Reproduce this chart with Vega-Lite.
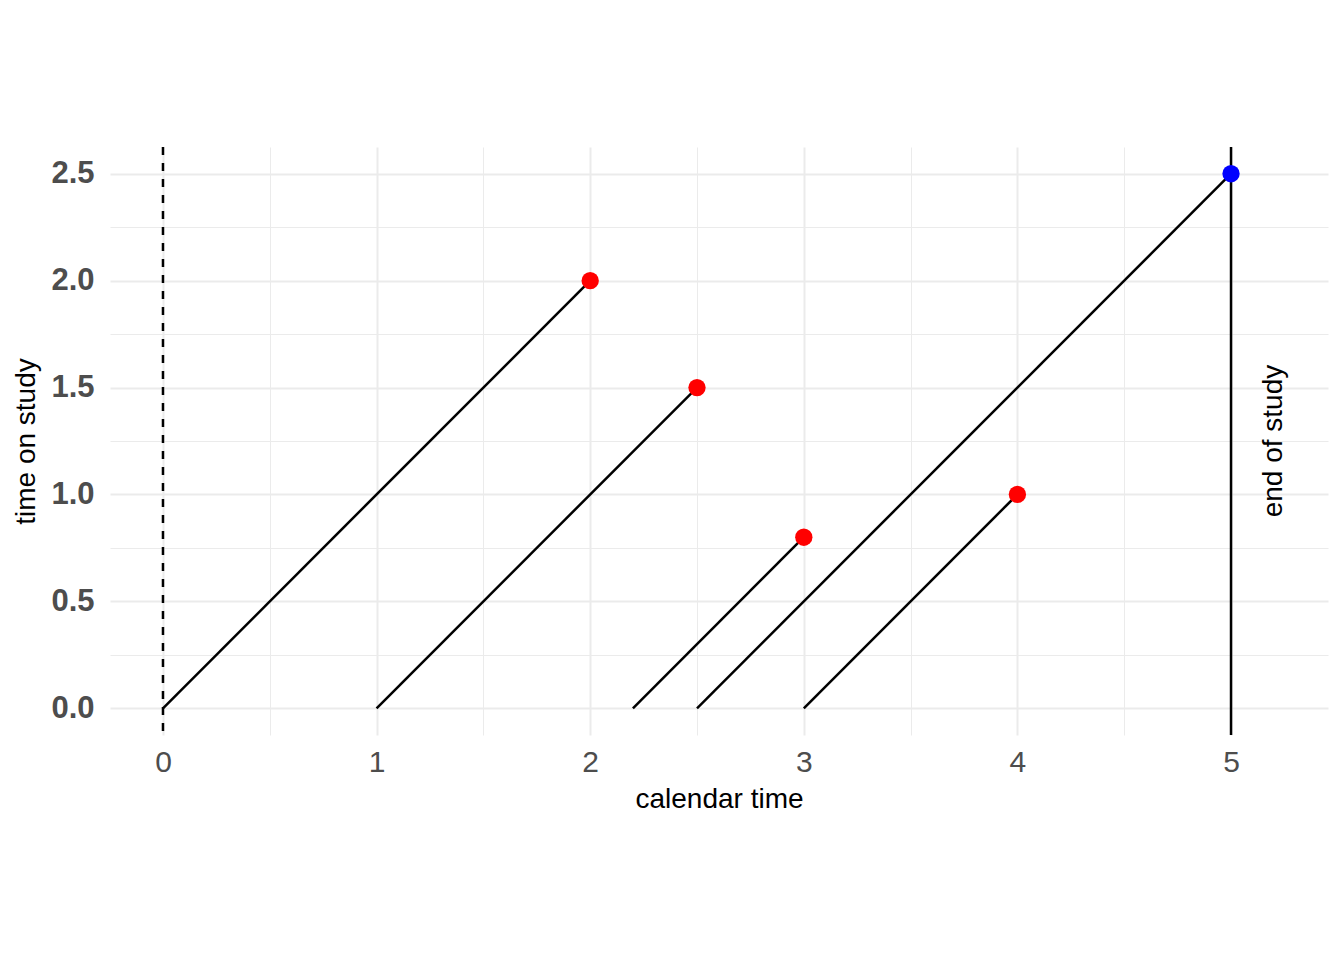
{
  "$schema": "https://vega.github.io/schema/vega-lite/v6.json",
  "width": 1218,
  "height": 588,
  "autosize": {"type": "none"},
  "padding": {"left": 110, "top": 147, "right": 16, "bottom": 225},
  "background": "white",
  "datasets": {
    "subjects": [
      {"entry": 0, "exit": 2, "start": 0, "time": 2, "status": "event"},
      {"entry": 1, "exit": 2.5, "start": 0, "time": 1.5, "status": "event"},
      {"entry": 2.2, "exit": 3, "start": 0, "time": 0.8, "status": "event"},
      {"entry": 2.5, "exit": 5, "start": 0, "time": 2.5, "status": "censored"},
      {"entry": 3, "exit": 4, "start": 0, "time": 1, "status": "event"}
    ],
    "bounds": [
      {"calendar": 0, "kind": "start of study"},
      {"calendar": 5, "kind": "end of study"}
    ],
    "notes": [
      {"calendar": 5.2, "time": 1.25, "label": "end of study"}
    ]
  },
  "layer": [
    {
      "data": {"name": "subjects"},
      "mark": {"type": "rule", "color": "black", "strokeWidth": 2.5},
      "encoding": {
        "x": {
          "field": "entry",
          "type": "quantitative",
          "title": "calendar time",
          "scale": {"domain": [-0.248, 5.454], "nice": false, "zero": false},
          "axis": {
            "values": [0, 0.5, 1, 1.5, 2, 2.5, 3, 3.5, 4, 4.5, 5],
            "format": "~g",
            "labelExpr": "datum.value % 1 === 0 ? datum.label : ''",
            "gridWidth": {"condition": {"test": "datum.value % 1 === 0", "value": 2}, "value": 1},
            "labelPadding": 12,
            "titlePadding": 8
          }
        },
        "x2": {"field": "exit"},
        "y": {
          "field": "start",
          "type": "quantitative",
          "title": "time on study",
          "scale": {"domain": [-0.125, 2.625], "nice": false, "zero": false},
          "axis": {
            "values": [0, 0.25, 0.5, 0.75, 1, 1.25, 1.5, 1.75, 2, 2.25, 2.5],
            "format": ".1f",
            "labelExpr": "round(datum.value * 4) % 2 === 0 ? datum.label : ''",
            "gridWidth": {"condition": {"test": "round(datum.value * 4) % 2 === 0", "value": 2}, "value": 1},
            "labelFontWeight": "bold",
            "labelFontSize": 31,
            "labelPadding": 16,
            "titlePadding": 10
          }
        },
        "y2": {"field": "time"}
      }
    },
    {
      "data": {"name": "bounds"},
      "mark": {"type": "rule", "color": "black", "strokeWidth": 2.5},
      "encoding": {
        "x": {"field": "calendar", "type": "quantitative", "title": "calendar time"},
        "strokeDash": {
          "field": "kind",
          "type": "nominal",
          "scale": {"domain": ["start of study", "end of study"], "range": [[8, 8], [1, 0]]},
          "legend": null
        }
      }
    },
    {
      "data": {"name": "subjects"},
      "mark": {"type": "circle", "opacity": 1, "size": 300},
      "encoding": {
        "x": {"field": "exit", "type": "quantitative", "title": "calendar time"},
        "y": {"field": "time", "type": "quantitative", "title": "time on study"},
        "color": {
          "field": "status",
          "type": "nominal",
          "scale": {"domain": ["event", "censored"], "range": ["#FF0000", "#0000FF"]},
          "legend": null
        }
      }
    },
    {
      "data": {"name": "notes"},
      "mark": {
        "type": "text",
        "angle": 270,
        "fontSize": 28,
        "font": "Liberation Sans",
        "color": "black",
        "align": "center",
        "baseline": "middle"
      },
      "encoding": {
        "x": {"field": "calendar", "type": "quantitative", "title": "calendar time"},
        "y": {"field": "time", "type": "quantitative", "title": "time on study"},
        "text": {"field": "label", "type": "nominal"}
      }
    }
  ],
  "config": {
    "view": {"stroke": null},
    "font": "Liberation Sans",
    "axis": {
      "domain": false,
      "ticks": false,
      "labelOverlap": false,
      "labelFlush": false,
      "labelFont": "Liberation Sans",
      "labelFontSize": 30,
      "labelColor": "#4D4D4D",
      "titleFont": "Liberation Sans",
      "titleFontSize": 28,
      "titleFontWeight": "normal",
      "titleColor": "black",
      "grid": true,
      "gridColor": "#EBEBEB"
    }
  }
}
